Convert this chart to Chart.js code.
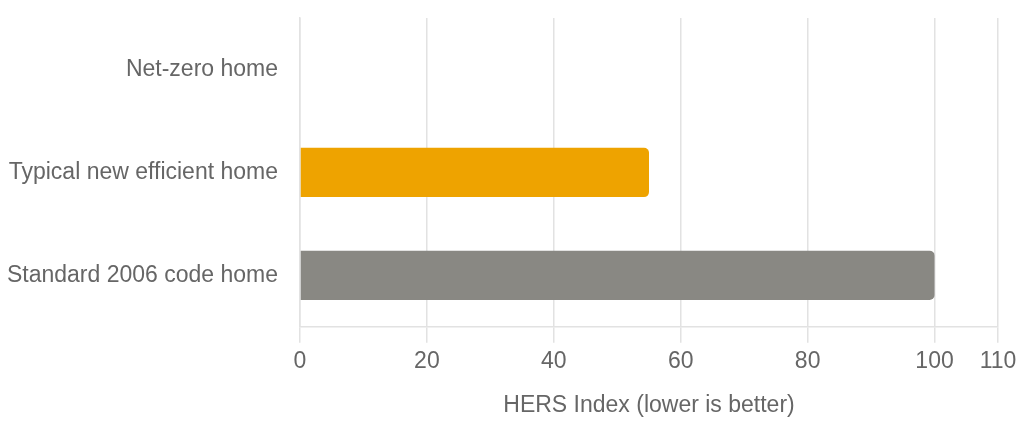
<!DOCTYPE html>
<html>
<head>
<meta charset="utf-8">
<script src="https://cdn.jsdelivr.net/npm/chart.js@4"></script>
<style>
html,body{margin:0;padding:0;background:#fff;}
#wrap{width:1024px;height:424px;}
</style>
</head>
<body>
<div id="wrap"><canvas id="c" width="1024" height="424"></canvas></div>
<script>
const categories = ["Net-zero home", "Typical new efficient home", "Standard 2006 code home"];
const hersValues = [0, 55, 100];
const barColors = ["#7f7f7f", "#EEA300", "#898883"];
const tickValues = [0, 20, 40, 60, 80, 100, 110];
const axisTitle = "HERS Index (lower is better)";

Chart.defaults.font.family = "'Liberation Sans', Arial, sans-serif";
Chart.defaults.color = "#666";

new Chart(document.getElementById('c'), {
  type: 'bar',
  data: {
    labels: categories,
    datasets: [{
      data: hersValues,
      backgroundColor: barColors,
      borderRadius: 5,
      borderSkipped: 'start',
      barPercentage: 0.6,
      categoryPercentage: 0.8
    }]
  },
  options: {
    indexAxis: 'y',
    responsive: false,
    animation: false,
    layout: { padding: { top: 18, right: 26, left: 0, bottom: 5 } },
    plugins: { legend: { display: false }, tooltip: { enabled: false } },
    scales: {
      x: {
        min: 0,
        max: 110,
        afterBuildTicks: (axis) => { axis.ticks = tickValues.map(v => ({ value: v })); },
        grid: { color: '#e2e2e2', tickLength: 16, lineWidth: 1.5 },
        border: { color: '#e2e2e2', width: 1.5 },
        ticks: { font: { size: 23 }, color: '#666', padding: 5 },
        title: { display: true, text: axisTitle, font: { size: 23 }, color: '#666', padding: { top: 11, bottom: 0 } }
      },
      y: {
        afterFit: (s) => { s.width = 300; s.paddingTop = 0; s.paddingBottom = 0; },
        grid: { display: false },
        border: { color: '#e2e2e2', width: 1.5 },
        ticks: { font: { size: 23 }, color: '#666', padding: 14 }
      }
    }
  }
});
</script>
</body>
</html>
